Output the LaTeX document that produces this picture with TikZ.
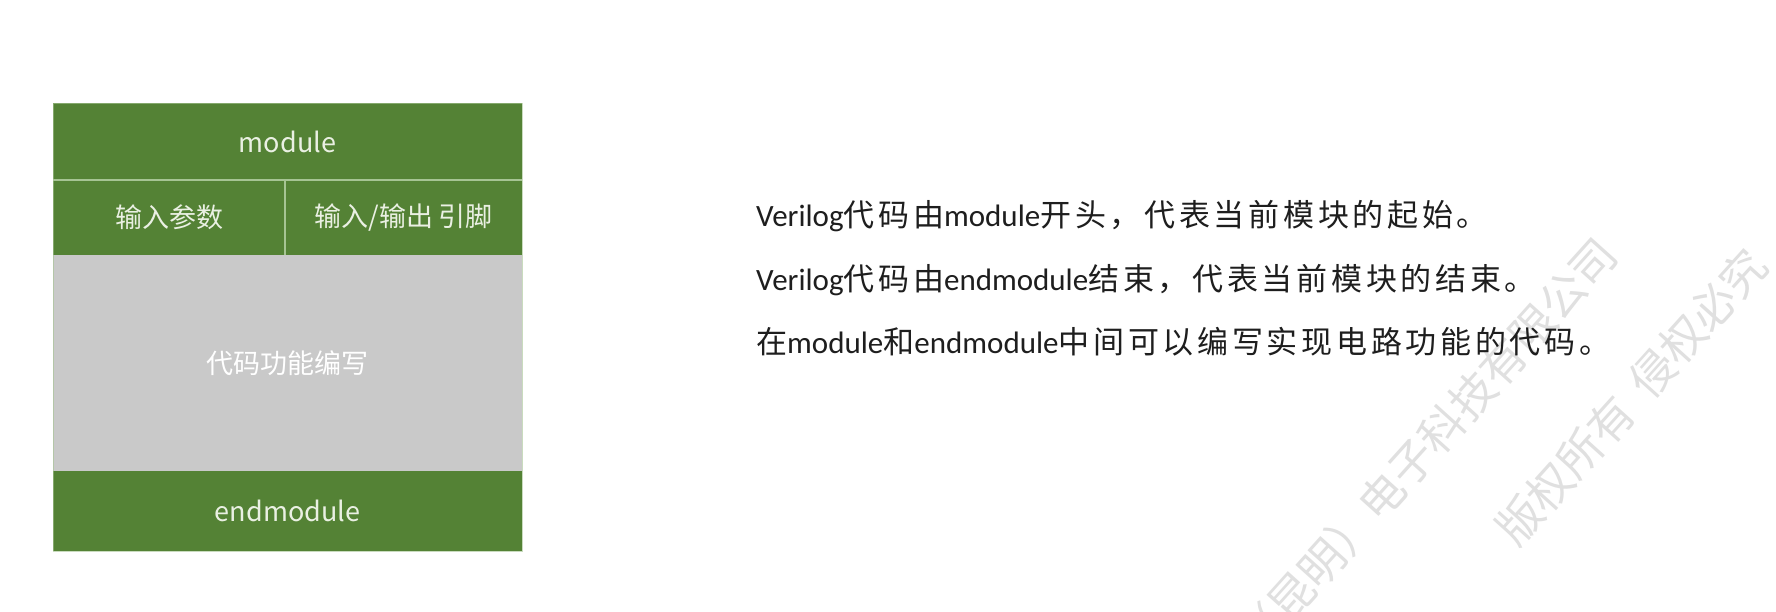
\documentclass[tikz,border=0pt]{standalone}
\usepackage{fontspec}
\setmainfont{Carlito}
\newfontfamily\cjk[LetterSpace=12]{Noto Sans CJK SC}
\newfontfamily\boxfont{Noto Sans CJK SC}
\newfontfamily\wmfont{Noto Sans CJK SC}
\definecolor{modgreen}{HTML}{548235}
\definecolor{codegray}{HTML}{C9C9C9}
\definecolor{sepline}{HTML}{A6C493}
\definecolor{boxtext}{HTML}{EAF0E3}
\definecolor{bodytext}{HTML}{1E1E1E}
\definecolor{wmgray}{HTML}{E0E0E0}
\tikzset{
  cell/.style={anchor=north west, inner sep=0pt, outer sep=0pt, text=boxtext,
    font=\boxfont\fontsize{27}{30}\selectfont},
  greencell/.style={cell, fill=modgreen},
  graycell/.style={cell, fill=codegray, text=white},
  sep/.style={draw=sepline, line width=1.6pt},
  bodyline/.style={anchor=base west, inner sep=0pt, text=bodytext,
    font=\fontsize{31}{36}\selectfont},
  wm/.style={inner sep=0pt, text=wmgray, rotate=48, anchor=east,
    font=\wmfont\fontsize{45}{50}\selectfont}
}
\begin{document}
\begin{tikzpicture}[x=1pt,y=-1pt]
\useasboundingbox[fill=white] (0,0) rectangle (1776,612);
\clip (0,0) rectangle (1776,612);
% watermark
\node[wm] (wma) at (1608,245) {（昆明）电子科技有限公司};
\node[wm] (wmb) at (1758,256) {版权所有\hspace{0.4em}侵权必究};
% structure box
\node[greencell, minimum width=469pt, minimum height=77pt] (mod) at (53,103) {module};
\node[greencell, minimum width=232pt, minimum height=75pt] (par) at (53,180) {输入参数};
\node[greencell, minimum width=237pt, minimum height=75pt] (pins) at (285,180) {输入/输出\,引脚};
\node[graycell, minimum width=469pt, minimum height=216pt] (code) at (53,255) {代码功能编写};
\node[greencell, minimum width=469pt, minimum height=80pt] (endm) at (53,471) {endmodule};
\draw[sep] (par.north west) -- (pins.north east);
\draw[sep] (pins.north west) -- (pins.south west);
\draw[draw=sepline, line width=0.8pt, opacity=0.6] (mod.north west) rectangle (endm.south east);
% description
\node[bodyline] (l1) at (756,227) {Verilog{\cjk 代码由}module{\cjk 开头，代表当前模块的起始。}};
\node[bodyline] (l2) at (756,290) {Verilog{\cjk 代码由}endmodule{\cjk 结束，代表当前模块的结束。}};
\node[bodyline] (l3) at (756,353) {{\cjk 在}module{\cjk 和}endmodule{\cjk 中间可以编写实现电路功能的代码。}};
\end{tikzpicture}
\end{document}
